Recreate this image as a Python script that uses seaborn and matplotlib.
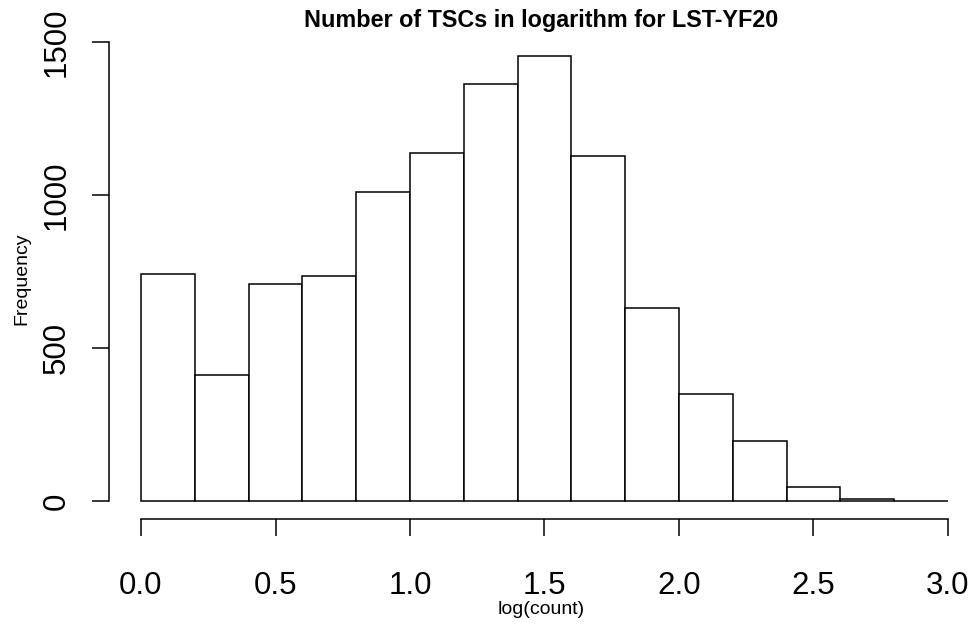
import numpy as np
import pandas as pd
import seaborn as sns
import matplotlib
matplotlib.use("Agg")
import matplotlib.pyplot as plt

# Data
bin_edges = [0.0, 0.2, 0.4, 0.6, 0.8, 1.0, 1.2, 1.4, 1.6, 1.8, 2.0, 2.2, 2.4, 2.6, 2.8, 3.0]
counts = [742, 412, 711, 736, 1009, 1137, 1362, 1455, 1129, 632, 350, 197, 45, 6, 2]
x_ticks = [0.0, 0.5, 1.0, 1.5, 2.0, 2.5, 3.0]
x_tick_labels = ["0.0", "0.5", "1.0", "1.5", "2.0", "2.5", "3.0"]
y_ticks = [0, 500, 1000, 1500]
y_tick_labels = ["0", "500", "1000", "1500"]

centers = [(a + b) / 2 for a, b in zip(bin_edges[:-1], bin_edges[1:])]
df = pd.DataFrame({"log_count": centers, "freq": counts})

sns.set_style("white")
plt.rcParams["font.family"] = ["Liberation Sans", "DejaVu Sans"]
plt.rcParams["text.color"] = "black"
plt.rcParams["axes.labelcolor"] = "black"

W, H = 974, 627
fig = plt.figure(figsize=(W / 100, H / 100), dpi=100)
left_px, right_px, top_px, bottom_px = 108.7, 974, 38, 519
ax = fig.add_axes([left_px / W, 1 - bottom_px / H, (right_px - left_px) / W, (bottom_px - top_px) / H])

sns.histplot(data=df, x="log_count", weights="freq", bins=bin_edges, ax=ax,
             color="white", edgecolor="black", linewidth=1.1, alpha=1)

ymax = max(counts)
ax.set_ylim(-0.04 * ymax, 1.04 * ymax)
ppu = (948 - 141) / 3.0
ax.set_xlim(0 - (141 - left_px) / ppu, 3.0 + (right_px - 948) / ppu)

for s in ["top", "right"]:
    ax.spines[s].set_visible(False)
ax.spines["left"].set_bounds(0, 1500)
ax.spines["bottom"].set_bounds(0, 3)
for s in ["left", "bottom"]:
    ax.spines[s].set_linewidth(1.1)
    ax.spines[s].set_color("black")

ax.set_xticks(x_ticks)
ax.set_xticklabels(x_tick_labels)
ax.set_yticks(y_ticks)
ax.set_yticklabels(y_tick_labels, rotation=90, va="center")
ax.tick_params(axis="both", direction="out", length=12.5, width=1.1, colors="black",
               labelcolor="black", labelsize=22.5, bottom=True, left=True)
ax.tick_params(axis="x", pad=25)
ax.tick_params(axis="y", pad=14)

ax.set_xlabel("log(count)", fontsize=14, labelpad=0, color="black")
ax.set_ylabel("Frequency", fontsize=14, labelpad=8, color="black")
ax.set_title("Number of TSCs in logarithm for LST-YF20", fontsize=16.8, fontweight="bold",
             pad=8, color="black")
ax.grid(False)

fig.savefig("out.png", dpi=100, facecolor="white")
